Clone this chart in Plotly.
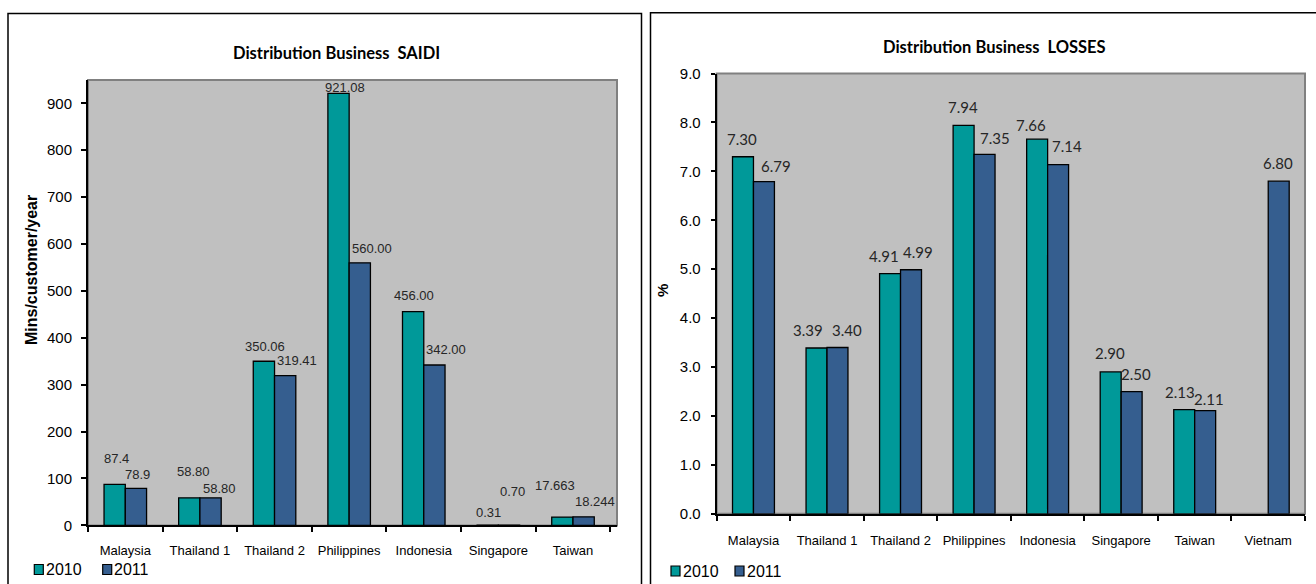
import plotly.graph_objects as go

W, H = 1316, 584

# ---------------- data ----------------
saidi_categories = ["Malaysia", "Thailand 1", "Thailand 2", "Philippines", "Indonesia", "Singapore", "Taiwan"]
saidi_2010 = [87.4, 58.80, 350.06, 921.08, 456.00, 0.31, 17.663]
saidi_2011 = [78.9, 58.80, 319.41, 560.00, 342.00, 0.70, 18.244]
saidi_2010_text = ["87.4", "58.80", "350.06", "921.08", "456.00", "0.31", "17.663"]
saidi_2011_text = ["78.9", "58.80", "319.41", "560.00", "342.00", "0.70", "18.244"]
saidi_ticks = [0, 100, 200, 300, 400, 500, 600, 700, 800, 900]

loss_categories = ["Malaysia", "Thailand 1", "Thailand 2", "Philippines", "Indonesia", "Singapore", "Taiwan", "Vietnam"]
loss_2010 = [7.30, 3.39, 4.91, 7.94, 7.66, 2.90, 2.13, None]
loss_2011 = [6.79, 3.40, 4.99, 7.35, 7.14, 2.50, 2.11, 6.80]
loss_ticks = [0, 1, 2, 3, 4, 5, 6, 7, 8, 9]

series_names = ["2010", "2011"]

# ---------------- style ----------------
TEAL = "#009999"
BLUE = "#355E8F"
PLOT_BG = "#C0C0C0"
ARIAL = "Liberation Sans, Arial, sans-serif"
CAL = "Lato, Calibri, sans-serif"

# pixel offsets of the (manually placed) data labels: (dx, dy)
saidi_off_2010 = [(-9, 26), (-6, 26), (-10, 15), (-4, 6), (-10, 16), (-10, 13), (-18, 32)]
saidi_off_2011 = [(12, 14), (20, 9), (22, 15), (23, 14), (22, 16), (14, 34), (22, 15)]
loss_off_2010 = [(-11, 18), (-19, 18), (-17, 18), (-11, 18), (-17, 14), (-11, 19), (-15, 18), (0, 0)]
loss_off_2011 = [(23, 16), (20, 18), (17, 18), (21, 16), (19, 19), (15, 18), (14, 12), (10, 18)]

# the page shows the figure's paper between y=8 and y=576 of the screen
TOP, BOT = 8.0, 576.0


def px_x(p):
    return p / W


def px_y(p):
    return 1 - (p - TOP) / (BOT - TOP)


fig = go.Figure()

bar_line = dict(color="black", width=1.3)
fig.add_trace(go.Bar(x=saidi_categories, y=saidi_2010, name=series_names[0], marker=dict(color=TEAL, line=bar_line),
                     xaxis="x", yaxis="y", showlegend=False))
fig.add_trace(go.Bar(x=saidi_categories, y=saidi_2011, name=series_names[1], marker=dict(color=BLUE, line=bar_line),
                     xaxis="x", yaxis="y", showlegend=False))
fig.add_trace(go.Bar(x=loss_categories, y=loss_2010, name=series_names[0], marker=dict(color=TEAL, line=bar_line),
                     xaxis="x2", yaxis="y2", showlegend=False))
fig.add_trace(go.Bar(x=loss_categories, y=loss_2011, name=series_names[1], marker=dict(color=BLUE, line=bar_line),
                     xaxis="x2", yaxis="y2", showlegend=False))

annotations = []
# data labels left
for cats, vals, texts, offs in [(saidi_categories, saidi_2010, saidi_2010_text, saidi_off_2010),
                                (saidi_categories, saidi_2011, saidi_2011_text, saidi_off_2011)]:
    for c, v, t, (dx, dy) in zip(cats, vals, texts, offs):
        annotations.append(dict(x=c, y=v, xref="x", yref="y", text=t, showarrow=False,
                                xanchor="center", yanchor="middle",
                                xshift=dx, yshift=dy, font=dict(family=ARIAL, size=13, color="#262626")))
# data labels right
for cats, vals, offs in [(loss_categories, loss_2010, loss_off_2010),
                         (loss_categories, loss_2011, loss_off_2011)]:
    for c, v, (dx, dy) in zip(cats, vals, offs):
        if v is None:
            continue
        annotations.append(dict(x=c, y=v, xref="x2", yref="y2", text=f"{v:.2f}", showarrow=False,
                                xanchor="center", yanchor="middle",
                                xshift=dx, yshift=dy, font=dict(family=CAL, size=15, color="#262626")))

# titles
annotations.append(dict(x=px_x(336.5), y=px_y(52), xref="paper", yref="paper", text="<b>Distribution Business  SAIDI</b>",
                        xanchor="center", yanchor="middle",
                        showarrow=False, font=dict(family=CAL, size=16.5, color="black")))
annotations.append(dict(x=px_x(994), y=px_y(46), xref="paper", yref="paper", text="<b>Distribution Business  LOSSES</b>",
                        xanchor="center", yanchor="middle",
                        showarrow=False, font=dict(family=CAL, size=16.5, color="black")))
# axis titles
annotations.append(dict(x=px_x(31.5), y=px_y(270), xref="paper", yref="paper", text="<b>Mins/customer/year</b>",
                        xanchor="center", yanchor="middle",
                        textangle=-90, showarrow=False, font=dict(family=ARIAL, size=16, color="black")))
annotations.append(dict(x=px_x(662.5), y=px_y(290), xref="paper", yref="paper", text="<b>%</b>",
                        xanchor="center", yanchor="middle",
                        textangle=-90, showarrow=False, font=dict(family=ARIAL, size=15, color="black")))

shapes = []
# panel borders
shapes.append(dict(type="rect", xref="paper", yref="paper", x0=px_x(8), x1=px_x(641.5), y0=-0.2, y1=px_y(12.5),
                   line=dict(color="black", width=1.5), fillcolor="rgba(0,0,0,0)", layer="below"))
shapes.append(dict(type="rect", xref="paper", yref="paper", x0=px_x(650.5), x1=1.2, y0=-0.2, y1=px_y(11.7),
                   line=dict(color="black", width=1.5), fillcolor="rgba(0,0,0,0)", layer="below"))
# plot-area frames (gray top/right)
for xr, yr in [("x domain", "y domain"), ("x2 domain", "y2 domain")]:
    shapes.append(dict(type="rect", xref=xr, yref=yr, x0=0, x1=1, y0=0, y1=1,
                       line=dict(color="#808080", width=2), fillcolor="rgba(0,0,0,0)", layer="below"))


# manual legends
def legend(x_sq1, x_tx1, x_sq2, x_tx2, yc, size):
    for xs, xt, col, name in [(x_sq1, x_tx1, TEAL, series_names[0]), (x_sq2, x_tx2, BLUE, series_names[1])]:
        shapes.append(dict(type="rect", xref="paper", yref="paper", x0=px_x(xs), x1=px_x(xs + 9),
                           y0=px_y(yc + 5), y1=px_y(yc - 5), line=dict(color="black", width=1.2), fillcolor=col))
        annotations.append(dict(x=px_x(xt), y=px_y(yc), xref="paper", yref="paper", text=name, showarrow=False,
                                xanchor="left", yanchor="middle", font=dict(family=ARIAL, size=size, color="black")))


legend(34.3, 43.5, 102.7, 111.5, 569.5, 16)
legend(671, 680.5, 735, 744.5, 571, 16)

axis_common = dict(showline=True, linecolor="black", linewidth=2, showgrid=False, zeroline=False,
                   ticks="outside", tickcolor="black", tickwidth=1.5)

fig.update_layout(
    width=W, height=H,
    autosize=False,
    margin=dict(l=0, r=0, t=0, b=0),
    paper_bgcolor="white",
    plot_bgcolor=PLOT_BG,
    barmode="group",
    bargap=0.43,
    bargroupgap=0,
    showlegend=False,
    xaxis=dict(domain=[px_x(88), px_x(617)], anchor="y", type="category", tickson="boundaries", ticklen=5,
               tickfont=dict(family=ARIAL, size=13, color="black"), ticklabelstandoff=12, **axis_common),
    yaxis=dict(domain=[px_y(525.3), px_y(79)], anchor="x", range=[0, 950], tickvals=saidi_ticks, ticklen=5,
               tickfont=dict(family=ARIAL, size=15, color="black"), ticklabelstandoff=6, **axis_common),
    xaxis2=dict(domain=[px_x(716.7), px_x(1305)], anchor="y2", type="category", tickson="boundaries", ticklen=5,
                tickfont=dict(family=ARIAL, size=13, color="black"), ticklabelstandoff=14, **axis_common),
    yaxis2=dict(domain=[px_y(513.7), px_y(72.7)], anchor="x2", range=[0, 9], tickvals=loss_ticks, tickformat=".1f",
                ticklen=4, tickfont=dict(family=ARIAL, size=15, color="black"), ticklabelstandoff=7, **axis_common),
    shapes=shapes,
    annotations=annotations,
)

fig.write_html("out.html")
